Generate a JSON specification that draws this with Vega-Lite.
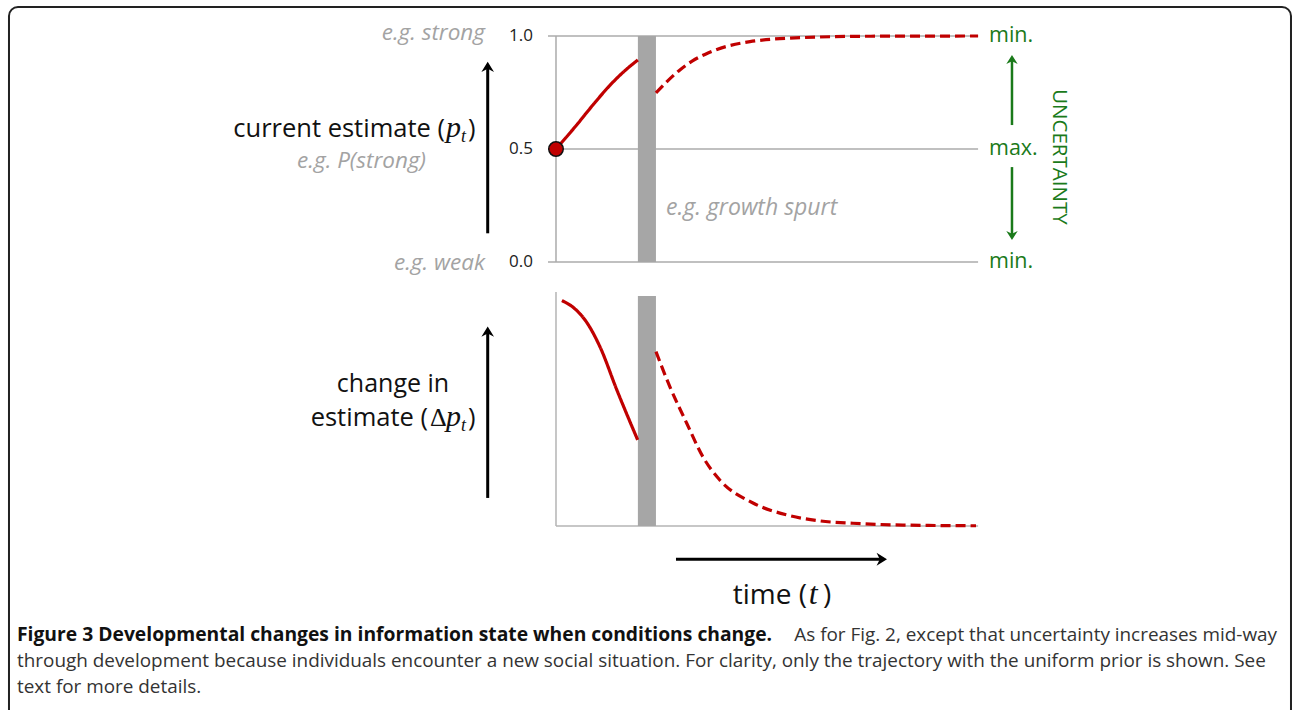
{
  "$schema": "https://vega.github.io/schema/vega-lite/v6.json",
  "width": 1292,
  "height": 710,
  "padding": 0,
  "autosize": {"type": "none"},
  "background": "white",
  "config": {"view": {"stroke": null}, "text": {"font": "Open Sans"}},
  "datasets": {
    "top": [
      {"t": 0, "p": 0.5, "seg": "before"},
      {"t": 0.45, "p": 0.597, "seg": "before"},
      {"t": 0.88, "p": 0.695, "seg": "before"},
      {"t": 1.29, "p": 0.783, "seg": "before"},
      {"t": 1.71, "p": 0.858, "seg": "before"},
      {"t": 1.95, "p": 0.894, "seg": "before"},
      {"t": 2.38, "p": 0.748, "seg": "after"},
      {"t": 2.95, "p": 0.85, "seg": "after"},
      {"t": 3.25, "p": 0.89, "seg": "after"},
      {"t": 3.62, "p": 0.925, "seg": "after"},
      {"t": 4.62, "p": 0.975, "seg": "after"},
      {"t": 5.88, "p": 0.993, "seg": "after"},
      {"t": 7.5, "p": 0.999, "seg": "after"},
      {"t": 10.05, "p": 1.0, "seg": "after"}
    ],
    "bottom": [
      {"t": 0.14, "dp": 0.98, "seg": "before"},
      {"t": 0.4, "dp": 0.952, "seg": "before"},
      {"t": 0.74, "dp": 0.883, "seg": "before"},
      {"t": 1.05, "dp": 0.778, "seg": "before"},
      {"t": 1.45, "dp": 0.591, "seg": "before"},
      {"t": 1.945, "dp": 0.374, "seg": "before"},
      {"t": 2.38, "dp": 0.758, "seg": "after"},
      {"t": 2.71, "dp": 0.606, "seg": "after"},
      {"t": 3.11, "dp": 0.448, "seg": "after"},
      {"t": 3.5, "dp": 0.3, "seg": "after"},
      {"t": 3.9, "dp": 0.2, "seg": "after"},
      {"t": 4.69, "dp": 0.1, "seg": "after"},
      {"t": 5.5, "dp": 0.048, "seg": "after"},
      {"t": 6.29, "dp": 0.022, "seg": "after"},
      {"t": 7.07, "dp": 0.012, "seg": "after"},
      {"t": 8.26, "dp": 0.004, "seg": "after"},
      {"t": 10.0, "dp": 0.001, "seg": "after"}
    ]
  },
  "resolve": {"scale": {"y": "independent"}},
  "layer": [
    {
      "layer": [
        {
          "data": {"values": [{"p": 0}, {"p": 0.5}, {"p": 1}]},
          "mark": {"type": "rule", "color": "#ababab", "strokeWidth": 1.5},
          "encoding": {
            "x": {"datum": -0.19, "type": "quantitative", "scale": {"domain": [-13.238, 17.524], "nice": false, "zero": false}, "axis": null},
            "x2": {"datum": 10.05},
            "y": {"field": "p", "type": "quantitative", "scale": {"domain": [-1.9823, 1.1593], "nice": false, "zero": false}, "axis": null}
          }
        },
        {
          "data": {"values": [{"p": 0, "p2": 1}]},
          "mark": {"type": "rule", "color": "#ababab", "strokeWidth": 1.5},
          "encoding": {
            "x": {"datum": 0, "type": "quantitative", "scale": {"domain": [-13.238, 17.524], "nice": false, "zero": false}, "axis": null},
            "y": {"field": "p", "type": "quantitative", "scale": {"domain": [-1.9823, 1.1593], "nice": false, "zero": false}, "axis": null},
            "y2": {"field": "p2"}
          }
        },
        {
          "data": {"values": [{"start": 1.95, "end": 2.38, "event": "growth spurt"}]},
          "mark": {"type": "rect", "color": "#a6a6a6"},
          "encoding": {
            "x": {"field": "start", "type": "quantitative", "scale": {"domain": [-13.238, 17.524], "nice": false, "zero": false}, "axis": null},
            "x2": {"field": "end"},
            "y": {"datum": 0, "type": "quantitative", "scale": {"domain": [-1.9823, 1.1593], "nice": false, "zero": false}, "axis": null},
            "y2": {"datum": 1}
          }
        },
        {
          "data": {"name": "top"},
          "mark": {"type": "line", "color": "#c00000", "strokeWidth": 3.2, "interpolate": "monotone"},
          "encoding": {
            "x": {"field": "t", "type": "quantitative", "scale": {"domain": [-13.238, 17.524], "nice": false, "zero": false}, "axis": null},
            "y": {"field": "p", "type": "quantitative", "scale": {"domain": [-1.9823, 1.1593], "nice": false, "zero": false}, "axis": null},
            "strokeDash": {"field": "seg", "type": "nominal", "scale": {"domain": ["before", "after"], "range": [[1, 0], [10, 5]]}, "legend": null}
          }
        },
        {
          "data": {"values": [{"t": 0, "p": 0.5}]},
          "mark": {"type": "point", "shape": "circle", "filled": true, "fill": "#c00000", "stroke": "#111111", "strokeWidth": 1.5, "size": 210, "opacity": 1},
          "encoding": {
            "x": {"field": "t", "type": "quantitative", "scale": {"domain": [-13.238, 17.524], "nice": false, "zero": false}, "axis": null},
            "y": {"field": "p", "type": "quantitative", "scale": {"domain": [-1.9823, 1.1593], "nice": false, "zero": false}, "axis": null}
          }
        },
        {
          "data": {"values": [{"label": "1.0", "p": 1}, {"label": "0.5", "p": 0.5}, {"label": "0.0", "p": 0}]},
          "mark": {"type": "text", "align": "right", "baseline": "middle", "fontSize": 17, "color": "#222222"},
          "encoding": {
            "x": {"datum": -0.55, "type": "quantitative", "scale": {"domain": [-13.238, 17.524], "nice": false, "zero": false}, "axis": null},
            "y": {"field": "p", "type": "quantitative", "scale": {"domain": [-1.9823, 1.1593], "nice": false, "zero": false}, "axis": null},
            "text": {"field": "label"}
          }
        },
        {
          "data": {"values": [
            {"label": "e.g. strong", "t": -1.69, "p": 1.013},
            {"label": "e.g. P(strong)", "t": -3.095, "p": 0.447},
            {"label": "e.g. weak", "t": -1.69, "p": -0.004}
          ]},
          "mark": {"type": "text", "align": "right", "baseline": "middle", "fontSize": 22.5, "fontStyle": "italic", "color": "#a3a3a3"},
          "encoding": {
            "x": {"field": "t", "type": "quantitative", "scale": {"domain": [-13.238, 17.524], "nice": false, "zero": false}, "axis": null},
            "y": {"field": "p", "type": "quantitative", "scale": {"domain": [-1.9823, 1.1593], "nice": false, "zero": false}, "axis": null},
            "text": {"field": "label"}
          }
        },
        {
          "data": {"values": [{"label": "current estimate ("}]},
          "mark": {"type": "text", "align": "right", "baseline": "alphabetic", "fontSize": 25.5, "color": "#111111"},
          "encoding": {
            "x": {"datum": -2.643, "type": "quantitative", "scale": {"domain": [-13.238, 17.524], "nice": false, "zero": false}, "axis": null},
            "y": {"datum": 0.554, "type": "quantitative", "scale": {"domain": [-1.9823, 1.1593], "nice": false, "zero": false}, "axis": null},
            "text": {"field": "label"}
          }
        },
        {
          "data": {"values": [{"label": "p"}]},
          "mark": {"type": "text", "align": "left", "baseline": "alphabetic", "fontSize": 30, "font": "Liberation Serif", "fontStyle": "italic", "color": "#111111"},
          "encoding": {
            "x": {"datum": -2.619, "type": "quantitative", "scale": {"domain": [-13.238, 17.524], "nice": false, "zero": false}, "axis": null},
            "y": {"datum": 0.554, "type": "quantitative", "scale": {"domain": [-1.9823, 1.1593], "nice": false, "zero": false}, "axis": null},
            "text": {"field": "label"}
          }
        },
        {
          "data": {"values": [{"label": "t"}]},
          "mark": {"type": "text", "align": "left", "baseline": "alphabetic", "fontSize": 18, "font": "Liberation Serif", "fontStyle": "italic", "color": "#111111"},
          "encoding": {
            "x": {"datum": -2.262, "type": "quantitative", "scale": {"domain": [-13.238, 17.524], "nice": false, "zero": false}, "axis": null},
            "y": {"datum": 0.532, "type": "quantitative", "scale": {"domain": [-1.9823, 1.1593], "nice": false, "zero": false}, "axis": null},
            "text": {"field": "label"}
          }
        },
        {
          "data": {"values": [{"label": ")"}]},
          "mark": {"type": "text", "align": "left", "baseline": "alphabetic", "fontSize": 25.5, "color": "#111111"},
          "encoding": {
            "x": {"datum": -2.095, "type": "quantitative", "scale": {"domain": [-13.238, 17.524], "nice": false, "zero": false}, "axis": null},
            "y": {"datum": 0.554, "type": "quantitative", "scale": {"domain": [-1.9823, 1.1593], "nice": false, "zero": false}, "axis": null},
            "text": {"field": "label"}
          }
        },
        {
          "data": {"values": [{}]},
          "mark": {"type": "rule", "color": "#000000", "strokeWidth": 3},
          "encoding": {
            "x": {"datum": -1.626, "type": "quantitative", "scale": {"domain": [-13.238, 17.524], "nice": false, "zero": false}, "axis": null},
            "y": {"datum": 0.127, "type": "quantitative", "scale": {"domain": [-1.9823, 1.1593], "nice": false, "zero": false}, "axis": null},
            "y2": {"datum": 0.87}
          }
        },
        {
          "data": {"values": [{}]},
          "mark": {"type": "point", "shape": "M0,0L-1,1.6L0,1.1L1,1.6Z", "filled": true, "color": "#000000", "opacity": 1, "size": 160},
          "encoding": {
            "x": {"datum": -1.626, "type": "quantitative", "scale": {"domain": [-13.238, 17.524], "nice": false, "zero": false}, "axis": null},
            "y": {"datum": 0.886, "type": "quantitative", "scale": {"domain": [-1.9823, 1.1593], "nice": false, "zero": false}, "axis": null}
          }
        },
        {
          "data": {"values": [{"label": "e.g. growth spurt"}]},
          "mark": {"type": "text", "align": "left", "baseline": "middle", "fontSize": 23, "fontStyle": "italic", "color": "#a3a3a3"},
          "encoding": {
            "x": {"datum": 2.619, "type": "quantitative", "scale": {"domain": [-13.238, 17.524], "nice": false, "zero": false}, "axis": null},
            "y": {"datum": 0.239, "type": "quantitative", "scale": {"domain": [-1.9823, 1.1593], "nice": false, "zero": false}, "axis": null},
            "text": {"field": "label"}
          }
        },
        {
          "data": {"values": [{"label": "min.", "p": 1}, {"label": "max.", "p": 0.5}, {"label": "min.", "p": 0}]},
          "mark": {"type": "text", "align": "left", "baseline": "middle", "fontSize": 21.5, "color": "#1a7a1a"},
          "encoding": {
            "x": {"datum": 10.31, "type": "quantitative", "scale": {"domain": [-13.238, 17.524], "nice": false, "zero": false}, "axis": null},
            "y": {"field": "p", "type": "quantitative", "scale": {"domain": [-1.9823, 1.1593], "nice": false, "zero": false}, "axis": null},
            "text": {"field": "label"}
          }
        },
        {
          "data": {"values": [{"p": 0.606, "p2": 0.9}, {"p": 0.42, "p2": 0.113}]},
          "mark": {"type": "rule", "color": "#1a7a1a", "strokeWidth": 2.5},
          "encoding": {
            "x": {"datum": 10.857, "type": "quantitative", "scale": {"domain": [-13.238, 17.524], "nice": false, "zero": false}, "axis": null},
            "y": {"field": "p", "type": "quantitative", "scale": {"domain": [-1.9823, 1.1593], "nice": false, "zero": false}, "axis": null},
            "y2": {"field": "p2"}
          }
        },
        {
          "data": {"values": [{}]},
          "mark": {"type": "point", "shape": "M0,0L-1,1.6L0,1.1L1,1.6Z", "filled": true, "color": "#1a7a1a", "opacity": 1, "size": 130},
          "encoding": {
            "x": {"datum": 10.857, "type": "quantitative", "scale": {"domain": [-13.238, 17.524], "nice": false, "zero": false}, "axis": null},
            "y": {"datum": 0.916, "type": "quantitative", "scale": {"domain": [-1.9823, 1.1593], "nice": false, "zero": false}, "axis": null}
          }
        },
        {
          "data": {"values": [{}]},
          "mark": {"type": "point", "shape": "M0,0L-1,1.6L0,1.1L1,1.6Z", "angle": 180, "filled": true, "color": "#1a7a1a", "opacity": 1, "size": 130},
          "encoding": {
            "x": {"datum": 10.857, "type": "quantitative", "scale": {"domain": [-13.238, 17.524], "nice": false, "zero": false}, "axis": null},
            "y": {"datum": 0.097, "type": "quantitative", "scale": {"domain": [-1.9823, 1.1593], "nice": false, "zero": false}, "axis": null}
          }
        },
        {
          "data": {"values": [{"label": "UNCERTAINTY"}]},
          "mark": {"type": "text", "align": "center", "baseline": "middle", "angle": 90, "fontSize": 20.5, "color": "#1a7a1a"},
          "encoding": {
            "x": {"datum": 11.976, "type": "quantitative", "scale": {"domain": [-13.238, 17.524], "nice": false, "zero": false}, "axis": null},
            "y": {"datum": 0.465, "type": "quantitative", "scale": {"domain": [-1.9823, 1.1593], "nice": false, "zero": false}, "axis": null},
            "text": {"field": "label"}
          }
        }
      ]
    },
    {
      "layer": [
        {
          "data": {"values": [{"dp": 0, "dp2": 1.017}]},
          "mark": {"type": "rule", "color": "#b4b4b4", "strokeWidth": 1.5},
          "encoding": {
            "x": {"datum": 0, "type": "quantitative", "scale": {"domain": [-13.238, 17.524], "nice": false, "zero": false}, "axis": null},
            "y": {"field": "dp", "type": "quantitative", "scale": {"domain": [-0.8, 2.287], "nice": false, "zero": false}, "axis": null},
            "y2": {"field": "dp2"}
          }
        },
        {
          "data": {"values": [{"dp": 0}]},
          "mark": {"type": "rule", "color": "#b4b4b4", "strokeWidth": 1.5},
          "encoding": {
            "x": {"datum": 0, "type": "quantitative", "scale": {"domain": [-13.238, 17.524], "nice": false, "zero": false}, "axis": null},
            "x2": {"datum": 10.05},
            "y": {"field": "dp", "type": "quantitative", "scale": {"domain": [-0.8, 2.287], "nice": false, "zero": false}, "axis": null}
          }
        },
        {
          "data": {"values": [{"start": 1.95, "end": 2.38, "event": "growth spurt"}]},
          "mark": {"type": "rect", "color": "#a6a6a6"},
          "encoding": {
            "x": {"field": "start", "type": "quantitative", "scale": {"domain": [-13.238, 17.524], "nice": false, "zero": false}, "axis": null},
            "x2": {"field": "end"},
            "y": {"datum": 0, "type": "quantitative", "scale": {"domain": [-0.8, 2.287], "nice": false, "zero": false}, "axis": null},
            "y2": {"datum": 1}
          }
        },
        {
          "data": {"name": "bottom"},
          "mark": {"type": "line", "color": "#c00000", "strokeWidth": 3.2, "interpolate": "monotone"},
          "encoding": {
            "x": {"field": "t", "type": "quantitative", "scale": {"domain": [-13.238, 17.524], "nice": false, "zero": false}, "axis": null},
            "y": {"field": "dp", "type": "quantitative", "scale": {"domain": [-0.8, 2.287], "nice": false, "zero": false}, "axis": null},
            "strokeDash": {"field": "seg", "type": "nominal", "scale": {"domain": ["before", "after"], "range": [[1, 0], [10, 5]]}, "legend": null}
          }
        },
        {
          "data": {"values": [{}]},
          "mark": {"type": "rule", "color": "#000000", "strokeWidth": 3},
          "encoding": {
            "x": {"datum": -1.626, "type": "quantitative", "scale": {"domain": [-13.238, 17.524], "nice": false, "zero": false}, "axis": null},
            "y": {"datum": 0.122, "type": "quantitative", "scale": {"domain": [-0.8, 2.287], "nice": false, "zero": false}, "axis": null},
            "y2": {"datum": 0.85}
          }
        },
        {
          "data": {"values": [{}]},
          "mark": {"type": "point", "shape": "M0,0L-1,1.6L0,1.1L1,1.6Z", "filled": true, "color": "#000000", "opacity": 1, "size": 160},
          "encoding": {
            "x": {"datum": -1.626, "type": "quantitative", "scale": {"domain": [-13.238, 17.524], "nice": false, "zero": false}, "axis": null},
            "y": {"datum": 0.867, "type": "quantitative", "scale": {"domain": [-0.8, 2.287], "nice": false, "zero": false}, "axis": null}
          }
        },
        {
          "data": {"values": [{"label": "change in"}]},
          "mark": {"type": "text", "align": "center", "baseline": "alphabetic", "fontSize": 25, "color": "#111111"},
          "encoding": {
            "x": {"datum": -3.881, "type": "quantitative", "scale": {"domain": [-13.238, 17.524], "nice": false, "zero": false}, "axis": null},
            "y": {"datum": 0.584, "type": "quantitative", "scale": {"domain": [-0.8, 2.287], "nice": false, "zero": false}, "axis": null},
            "text": {"field": "label"}
          }
        },
        {
          "data": {"values": [{"label": "estimate ("}]},
          "mark": {"type": "text", "align": "right", "baseline": "alphabetic", "fontSize": 25.5, "color": "#111111"},
          "encoding": {
            "x": {"datum": -3.048, "type": "quantitative", "scale": {"domain": [-13.238, 17.524], "nice": false, "zero": false}, "axis": null},
            "y": {"datum": 0.436, "type": "quantitative", "scale": {"domain": [-0.8, 2.287], "nice": false, "zero": false}, "axis": null},
            "text": {"field": "label"}
          }
        },
        {
          "data": {"values": [{"label": "Δ"}]},
          "mark": {"type": "text", "align": "left", "baseline": "alphabetic", "fontSize": 26, "font": "Liberation Serif", "color": "#111111"},
          "encoding": {
            "x": {"datum": -3.0, "type": "quantitative", "scale": {"domain": [-13.238, 17.524], "nice": false, "zero": false}, "axis": null},
            "y": {"datum": 0.436, "type": "quantitative", "scale": {"domain": [-0.8, 2.287], "nice": false, "zero": false}, "axis": null},
            "text": {"field": "label"}
          }
        },
        {
          "data": {"values": [{"label": "p"}]},
          "mark": {"type": "text", "align": "left", "baseline": "alphabetic", "fontSize": 30, "font": "Liberation Serif", "fontStyle": "italic", "color": "#111111"},
          "encoding": {
            "x": {"datum": -2.619, "type": "quantitative", "scale": {"domain": [-13.238, 17.524], "nice": false, "zero": false}, "axis": null},
            "y": {"datum": 0.436, "type": "quantitative", "scale": {"domain": [-0.8, 2.287], "nice": false, "zero": false}, "axis": null},
            "text": {"field": "label"}
          }
        },
        {
          "data": {"values": [{"label": "t"}]},
          "mark": {"type": "text", "align": "left", "baseline": "alphabetic", "fontSize": 18, "font": "Liberation Serif", "fontStyle": "italic", "color": "#111111"},
          "encoding": {
            "x": {"datum": -2.262, "type": "quantitative", "scale": {"domain": [-13.238, 17.524], "nice": false, "zero": false}, "axis": null},
            "y": {"datum": 0.414, "type": "quantitative", "scale": {"domain": [-0.8, 2.287], "nice": false, "zero": false}, "axis": null},
            "text": {"field": "label"}
          }
        },
        {
          "data": {"values": [{"label": ")"}]},
          "mark": {"type": "text", "align": "left", "baseline": "alphabetic", "fontSize": 25.5, "color": "#111111"},
          "encoding": {
            "x": {"datum": -2.095, "type": "quantitative", "scale": {"domain": [-13.238, 17.524], "nice": false, "zero": false}, "axis": null},
            "y": {"datum": 0.436, "type": "quantitative", "scale": {"domain": [-0.8, 2.287], "nice": false, "zero": false}, "axis": null},
            "text": {"field": "label"}
          }
        },
        {
          "data": {"values": [{}]},
          "mark": {"type": "rule", "color": "#000000", "strokeWidth": 3},
          "encoding": {
            "x": {"datum": 2.857, "type": "quantitative", "scale": {"domain": [-13.238, 17.524], "nice": false, "zero": false}, "axis": null},
            "x2": {"datum": 7.78},
            "y": {"datum": -0.145, "type": "quantitative", "scale": {"domain": [-0.8, 2.287], "nice": false, "zero": false}, "axis": null}
          }
        },
        {
          "data": {"values": [{}]},
          "mark": {"type": "point", "shape": "M0,0L-1,1.6L0,1.1L1,1.6Z", "angle": 90, "filled": true, "color": "#000000", "opacity": 1, "size": 170},
          "encoding": {
            "x": {"datum": 7.881, "type": "quantitative", "scale": {"domain": [-13.238, 17.524], "nice": false, "zero": false}, "axis": null},
            "y": {"datum": -0.145, "type": "quantitative", "scale": {"domain": [-0.8, 2.287], "nice": false, "zero": false}, "axis": null}
          }
        },
        {
          "data": {"values": [{"label": "time ("}]},
          "mark": {"type": "text", "align": "right", "baseline": "alphabetic", "fontSize": 28, "color": "#111111"},
          "encoding": {
            "x": {"datum": 5.976, "type": "quantitative", "scale": {"domain": [-13.238, 17.524], "nice": false, "zero": false}, "axis": null},
            "y": {"datum": -0.339, "type": "quantitative", "scale": {"domain": [-0.8, 2.287], "nice": false, "zero": false}, "axis": null},
            "text": {"field": "label"}
          }
        },
        {
          "data": {"values": [{"label": "t"}]},
          "mark": {"type": "text", "align": "left", "baseline": "alphabetic", "fontSize": 32, "font": "Liberation Serif", "fontStyle": "italic", "color": "#111111"},
          "encoding": {
            "x": {"datum": 6.02, "type": "quantitative", "scale": {"domain": [-13.238, 17.524], "nice": false, "zero": false}, "axis": null},
            "y": {"datum": -0.339, "type": "quantitative", "scale": {"domain": [-0.8, 2.287], "nice": false, "zero": false}, "axis": null},
            "text": {"field": "label"}
          }
        },
        {
          "data": {"values": [{"label": ")"}]},
          "mark": {"type": "text", "align": "left", "baseline": "alphabetic", "fontSize": 28, "color": "#111111"},
          "encoding": {
            "x": {"datum": 6.357, "type": "quantitative", "scale": {"domain": [-13.238, 17.524], "nice": false, "zero": false}, "axis": null},
            "y": {"datum": -0.339, "type": "quantitative", "scale": {"domain": [-0.8, 2.287], "nice": false, "zero": false}, "axis": null},
            "text": {"field": "label"}
          }
        }
      ]
    },
    {
      "layer": [
        {
          "data": {"values": [{}]},
          "mark": {"type": "rect", "fillOpacity": 0, "stroke": "#222222", "strokeWidth": 2, "cornerRadius": 9},
          "encoding": {
            "x": {"datum": -13.024, "type": "quantitative", "scale": {"domain": [-13.238, 17.524], "nice": false, "zero": false}, "axis": null},
            "x2": {"datum": 17.5},
            "y": {"datum": -23.385, "type": "quantitative", "scale": {"domain": [-23.654, 3.654], "nice": false, "zero": false, "reverse": true}, "axis": null},
            "y2": {"datum": 4.04}
          }
        },
        {
          "data": {"values": [{"label": "Figure 3 Developmental changes in information state when conditions change.", "ln": 1}]},
          "mark": {"type": "text", "align": "left", "baseline": "alphabetic", "fontSize": 19.3, "font": "Open Sans", "fontWeight": "bold", "color": "#111111"},
          "encoding": {
            "x": {"datum": -12.833, "type": "quantitative", "scale": {"domain": [-13.238, 17.524], "nice": false, "zero": false}, "axis": null},
            "y": {"field": "ln", "type": "quantitative", "scale": {"domain": [-23.654, 3.654], "nice": false, "zero": false, "reverse": true}, "axis": null},
            "text": {"field": "label"}
          }
        },
        {
          "data": {"values": [{"label": "As for Fig. 2, except that uncertainty increases mid-way", "ln": 1}]},
          "mark": {"type": "text", "align": "right", "baseline": "alphabetic", "fontSize": 18.9, "font": "Open Sans", "color": "#333333"},
          "encoding": {
            "x": {"datum": 17.167, "type": "quantitative", "scale": {"domain": [-13.238, 17.524], "nice": false, "zero": false}, "axis": null},
            "y": {"field": "ln", "type": "quantitative", "scale": {"domain": [-23.654, 3.654], "nice": false, "zero": false, "reverse": true}, "axis": null},
            "text": {"field": "label"}
          }
        },
        {
          "data": {"values": [
            {"label": "through development because individuals encounter a new social situation. For clarity, only the trajectory with the uniform prior is shown. See", "ln": 2},
            {"label": "text for more details.", "ln": 3}
          ]},
          "mark": {"type": "text", "align": "left", "baseline": "alphabetic", "fontSize": 18.9, "font": "Open Sans", "color": "#333333"},
          "encoding": {
            "x": {"datum": -12.833, "type": "quantitative", "scale": {"domain": [-13.238, 17.524], "nice": false, "zero": false}, "axis": null},
            "y": {"field": "ln", "type": "quantitative", "scale": {"domain": [-23.654, 3.654], "nice": false, "zero": false, "reverse": true}, "axis": null},
            "text": {"field": "label"}
          }
        }
      ]
    }
  ]
}
